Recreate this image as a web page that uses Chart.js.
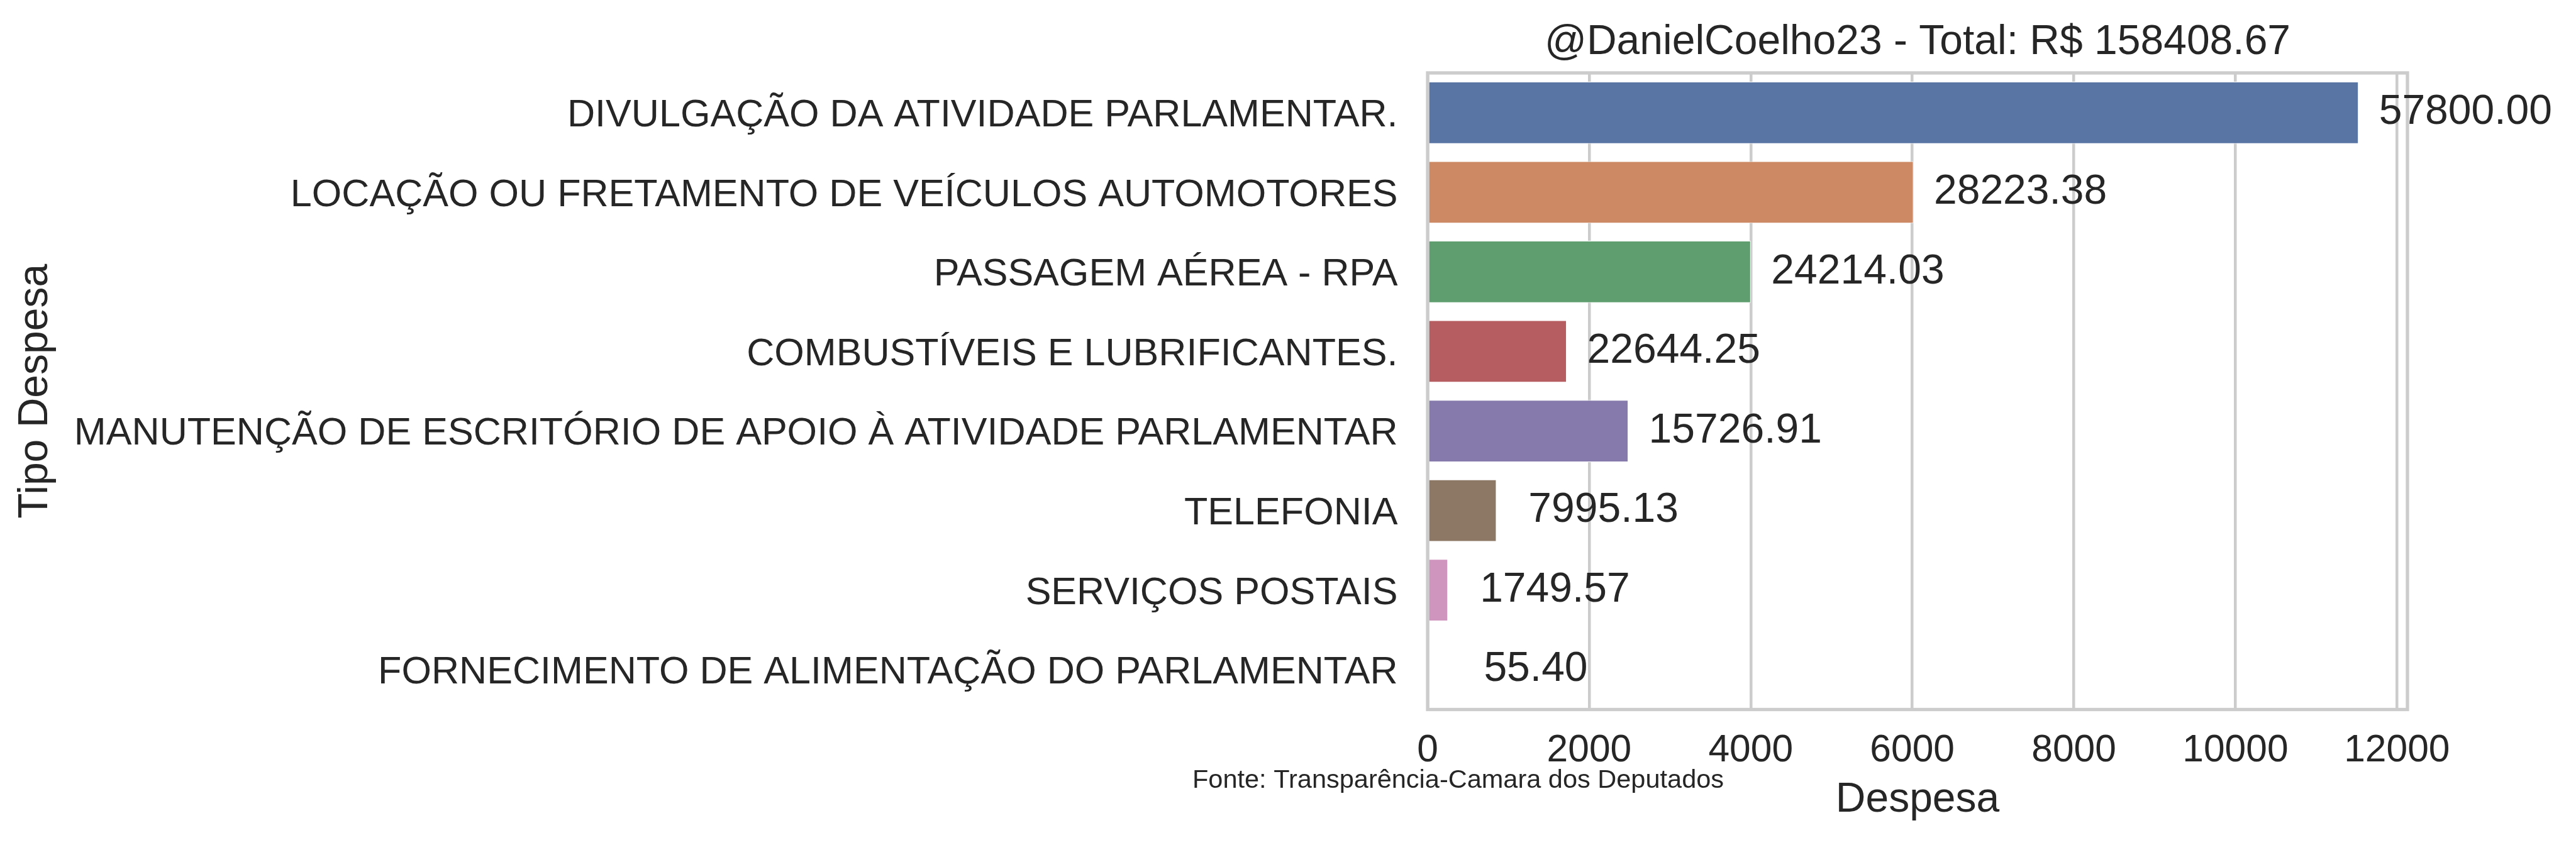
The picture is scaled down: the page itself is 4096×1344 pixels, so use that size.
<!DOCTYPE html>
<html>
<head>
<meta charset="utf-8">
<script src="https://cdn.jsdelivr.net/npm/chart.js@4/dist/chart.umd.min.js"></script>
<style>
  html, body { margin: 0; padding: 0; background: #ffffff; }
  #wrap { width: 4096px; height: 1344px; }
</style>
</head>
<body>
<div id="wrap"><canvas id="c" width="4096" height="1344"></canvas></div>
<script>
const categories = [
  'DIVULGAÇÃO DA ATIVIDADE PARLAMENTAR.',
  'LOCAÇÃO OU FRETAMENTO DE VEÍCULOS AUTOMOTORES',
  'PASSAGEM AÉREA - RPA',
  'COMBUSTÍVEIS E LUBRIFICANTES.',
  'MANUTENÇÃO DE ESCRITÓRIO DE APOIO À ATIVIDADE PARLAMENTAR',
  'TELEFONIA',
  'SERVIÇOS POSTAIS',
  'FORNECIMENTO DE ALIMENTAÇÃO DO PARLAMENTAR'
];
const barValues = [11524, 6014, 4000, 1721, 2484, 852, 251, 14];
const valueLabels = ['57800.00', '28223.38', '24214.03', '22644.25', '15726.91', '7995.13', '1749.57', '55.40'];
const barColors = ['#5975a4', '#cc8963', '#5f9e6e', '#b55d60', '#857aab', '#8d7866', '#d095bf', '#8c8c8c'];
const xTicks = [0, 2000, 4000, 6000, 8000, 10000, 12000];
const titleText = '@DanielCoelho23 - Total: R$ 158408.67';
const xTitle = 'Despesa';
const yTitle = 'Tipo Despesa';
const sourceText = 'Fonte: Transparência-Camara dos Deputados';
const labelOffset = 1325;

const FONT = '"Liberation Sans", Arial, sans-serif';
const TXT = '#262626';
const GRID = '#cccccc';

const extras = {
  id: 'extras',
  afterDatasetsDraw(chart) {
    const ctx = chart.ctx;
    const a = chart.chartArea;
    const xs = chart.scales.x, ys = chart.scales.y;
    ctx.save();
    // spines
    ctx.strokeStyle = GRID;
    ctx.lineWidth = 5.3;
    ctx.strokeRect(a.left, a.top, a.right - a.left, a.bottom - a.top);
    // value labels
    ctx.fillStyle = TXT;
    ctx.font = '66px ' + FONT;
    ctx.textAlign = 'center';
    ctx.textBaseline = 'middle';
    barValues.forEach((v, i) => {
      ctx.fillText(valueLabels[i], xs.getPixelForValue(v + labelOffset), ys.getPixelForValue(i));
    });
    // title
    ctx.textBaseline = 'alphabetic';
    ctx.fillText(titleText, (a.left + a.right) / 2, 86.4);
    // source
    ctx.font = '41.5px ' + FONT;
    ctx.textAlign = 'left';
    ctx.fillText(sourceText, 1896, 1252.6);
    ctx.restore();
  }
};

new Chart(document.getElementById('c'), {
  type: 'bar',
  data: {
    labels: categories,
    datasets: [{
      data: barValues,
      backgroundColor: barColors,
      borderColor: '#ffffff',
      borderWidth: 1,
      barPercentage: 0.78,
      categoryPercentage: 1.0
    }]
  },
  options: {
    indexAxis: 'y',
    responsive: false,
    devicePixelRatio: 1,
    animation: false,
    layout: { padding: { top: 116, right: 268, bottom: 0, left: 0 } },
    plugins: { legend: { display: false }, tooltip: { enabled: false }, title: { display: false } },
    scales: {
      x: {
        min: 0,
        max: 12130,
        afterFit(s) { s.height = 215.5; },
        afterBuildTicks(s) { s.ticks = xTicks.map(v => ({ value: v })); },
        grid: { color: GRID, lineWidth: 4.5, drawTicks: false },
        border: { display: false },
        ticks: {
          includeBounds: false,
          padding: 30,
          color: TXT,
          font: { family: FONT, size: 60.5 },
          callback: (v) => String(v),
          maxRotation: 0,
          autoSkip: false
        },
        title: {
          display: true,
          text: xTitle,
          color: TXT,
          font: { family: FONT, size: 66 },
          padding: { top: 0, bottom: 31.4 }
        }
      },
      y: {
        afterFit(s) { s.width = 2270; },
        grid: { display: false, drawTicks: false },
        border: { display: false },
        ticks: {
          padding: 47.5,
          labelOffset: 5,
          color: TXT,
          font: { family: FONT, size: 61.1 },
          autoSkip: false
        },
        title: {
          display: true,
          text: yTitle,
          color: TXT,
          font: { family: FONT, size: 66 },
          padding: { top: 17.4, bottom: 0 }
        }
      }
    }
  },
  plugins: [extras]
});
</script>
</body>
</html>
